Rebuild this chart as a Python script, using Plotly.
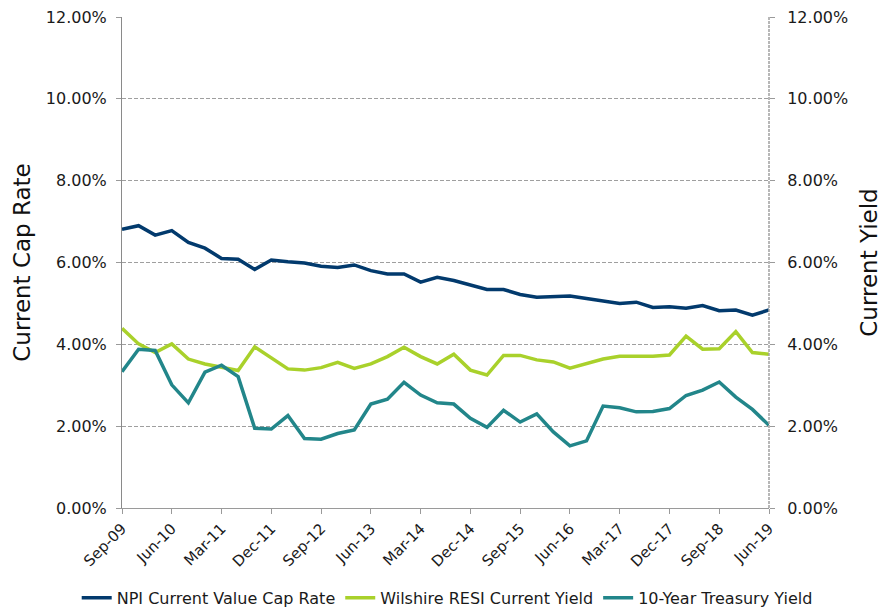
import plotly.graph_objects as go

quarters = ["Sep-09","Dec-09","Mar-10","Jun-10","Sep-10","Dec-10","Mar-11","Jun-11","Sep-11","Dec-11",
            "Mar-12","Jun-12","Sep-12","Dec-12","Mar-13","Jun-13","Sep-13","Dec-13","Mar-14","Jun-14",
            "Sep-14","Dec-14","Mar-15","Jun-15","Sep-15","Dec-15","Mar-16","Jun-16","Sep-16","Dec-16",
            "Mar-17","Jun-17","Sep-17","Dec-17","Mar-18","Jun-18","Sep-18","Dec-18","Mar-19","Jun-19"]

npi = [6.81, 6.90, 6.67, 6.78, 6.49, 6.35, 6.10, 6.08, 5.83, 6.06,
       6.02, 5.99, 5.91, 5.88, 5.94, 5.80, 5.72, 5.72, 5.52, 5.64,
       5.56, 5.45, 5.34, 5.34, 5.22, 5.15, 5.17, 5.18, 5.12, 5.07,
       5.00, 5.03, 4.90, 4.92, 4.88, 4.95, 4.82, 4.84, 4.71, 4.84]

wilshire = [4.39, 4.01, 3.80, 4.01, 3.64, 3.52, 3.44, 3.36, 3.94, 3.68,
            3.40, 3.37, 3.43, 3.56, 3.41, 3.52, 3.70, 3.93, 3.70, 3.52,
            3.76, 3.37, 3.25, 3.73, 3.73, 3.62, 3.57, 3.42, 3.52, 3.64,
            3.71, 3.71, 3.71, 3.74, 4.20, 3.88, 3.89, 4.31, 3.80, 3.76]

treasury = [3.33, 3.88, 3.85, 3.01, 2.57, 3.32, 3.49, 3.21, 1.95, 1.93,
            2.26, 1.70, 1.68, 1.82, 1.91, 2.54, 2.66, 3.07, 2.76, 2.57,
            2.54, 2.19, 1.97, 2.39, 2.10, 2.30, 1.86, 1.52, 1.64, 2.49,
            2.45, 2.35, 2.36, 2.43, 2.75, 2.88, 3.08, 2.71, 2.41, 2.02]

tick_idx = list(range(0, 40, 3))
tick_labels = [quarters[i] for i in tick_idx]

FONT = "DejaVu Sans, Verdana, sans-serif"
x = list(range(len(quarters)))

fig = go.Figure()
fig.add_trace(go.Scatter(x=x, y=npi, mode="lines", name="NPI Current Value Cap Rate",
                         line=dict(color="#023a6d", width=3.5)))
fig.add_trace(go.Scatter(x=x, y=wilshire, mode="lines", name="Wilshire RESI Current Yield",
                         line=dict(color="#a9d12b", width=3.5)))
fig.add_trace(go.Scatter(x=x, y=treasury, mode="lines", name="10-Year Treasury Yield",
                         line=dict(color="#22868a", width=3.5)))
fig.add_trace(go.Scatter(x=x, y=npi, yaxis="y2", mode="lines", showlegend=False,
                         hoverinfo="skip", line=dict(color="rgba(0,0,0,0)", width=0)))

yticks = [0, 2, 4, 6, 8, 10, 12]
ytext = [f"{v:.2f}%" for v in yticks]

fig.update_layout(
    width=884, height=608,
    margin=dict(l=122, r=115, t=17, b=100, autoexpand=False),
    plot_bgcolor="white", paper_bgcolor="white",
    font=dict(family=FONT, color="#1a1a1a", size=15),
    xaxis=dict(range=[0, 39], tickmode="array", tickvals=tick_idx, ticktext=tick_labels,
               tickangle=-45, tickfont=dict(size=15), showgrid=False, zeroline=False,
               showline=True, linecolor="#9a9a9a", linewidth=1, automargin=False,
               ticks="outside", ticklen=5, tickcolor="#9a9a9a"),
    yaxis=dict(range=[0, 12], tickmode="array", tickvals=yticks, ticktext=ytext,
               tickfont=dict(size=16), showgrid=True, gridcolor="#9f9f9f", griddash="4px,2px",
               gridwidth=1, zeroline=False, showline=True, linecolor="#8a8a8a", linewidth=1,
               ticks="outside", ticklen=5, tickcolor="#9a9a9a", automargin=False,
               ticklabelstandoff=6,
               title=dict(text="Current Cap Rate", font=dict(size=23, color="#111111"), standoff=8)),
    yaxis2=dict(range=[0, 12], overlaying="y", side="right", tickmode="array",
                tickvals=yticks, ticktext=ytext, tickfont=dict(size=16), showgrid=False,
                zeroline=False, showline=False, ticks="outside", ticklen=5, tickcolor="#9a9a9a",
                automargin=False, ticklabelstandoff=9,
                title=dict(text="Current Yield", font=dict(size=23, color="#111111"), standoff=13)),
    legend=dict(orientation="h", x=-0.07, xanchor="left", y=-0.183, yanchor="middle",
                font=dict(size=16), itemwidth=30, tracegroupgap=0),
    showlegend=True,
    shapes=[dict(type="line", xref="paper", yref="paper", x0=1, x1=1, y0=0, y1=1,
                 line=dict(color="#a0a0a0", width=1.5, dash="3px,1px"))],
)

fig.write_html("out.html", config={"displayModeBar": False},
               post_script="document.body.style.margin='0';")
